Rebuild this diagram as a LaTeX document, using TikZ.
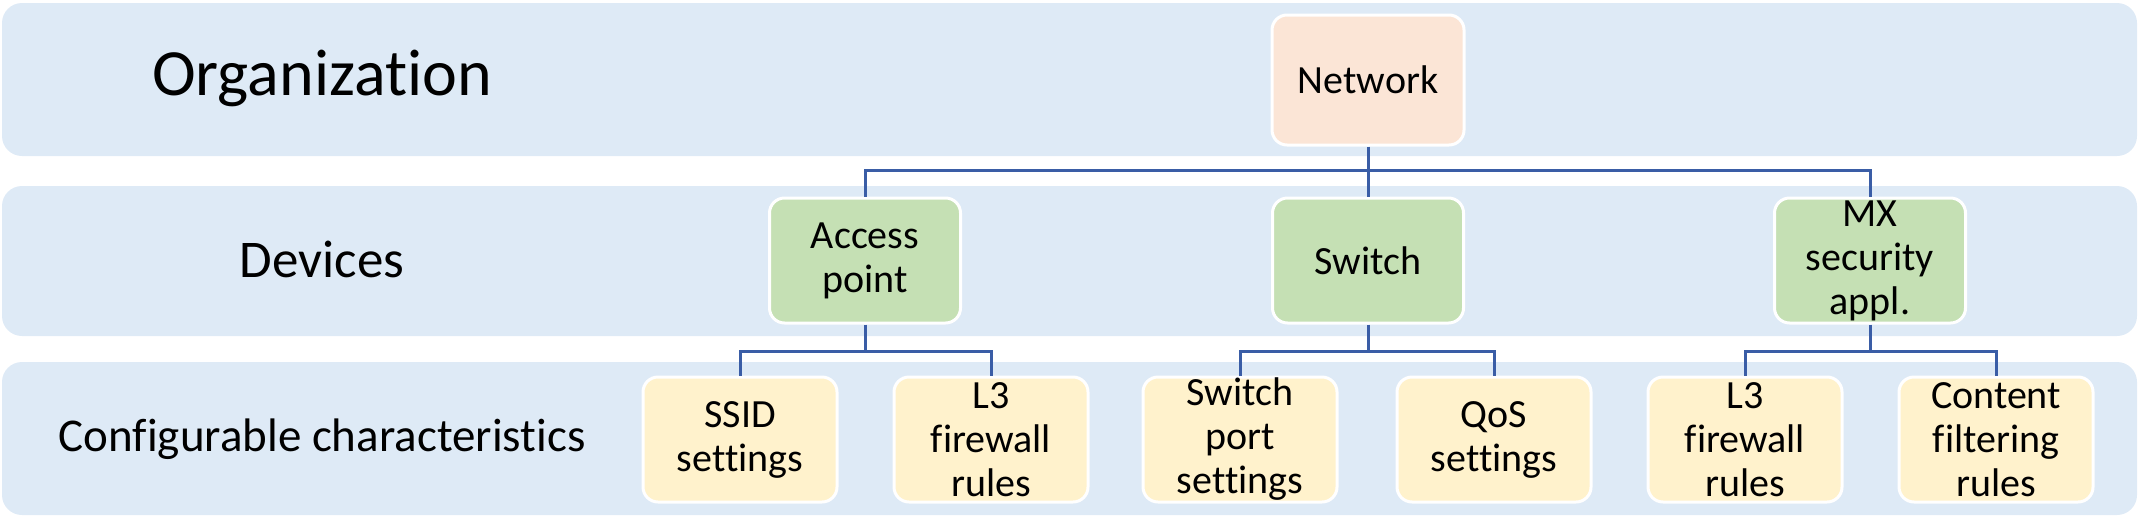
\documentclass[tikz,border=0pt]{standalone}
\usepackage{fontspec}
\setmainfont{Carlito}[Ligatures=NoCommon]
\definecolor{bandblue}{HTML}{DEEAF6}
\definecolor{peach}{HTML}{FBE5D6}
\definecolor{leaf}{HTML}{C5E0B4}
\definecolor{cream}{HTML}{FFF2CC}
\definecolor{wire}{HTML}{3A5DA6}
\begin{document}
\begin{tikzpicture}[x=1pt,y=-1pt,
  band/.style={fill=bandblue,draw=none,rounded corners=20pt},
  lbl/.style={inner sep=0pt},
  box/.style={draw=white,line width=3pt,rounded corners=15pt,inner sep=0pt,
    align=center,font=\fontsize{40}{44}\selectfont},
  orgbox/.style={box,fill=peach,minimum width=192pt,minimum height=130pt},
  devbox/.style={box,fill=leaf,minimum width=191pt,minimum height=125pt},
  cfgbox/.style={box,fill=cream,minimum width=194pt,minimum height=125pt},
  link/.style={draw=wire,line width=3pt}]
\useasboundingbox (0,0) rectangle (2140,517);
\path[band] (2,3) rectangle (2137,156);
\path[band] (2,186) rectangle (2137,336);
\path[band] (2,362) rectangle (2137,515);
\node[lbl,font=\fontsize{66}{72}\selectfont] (lorg) at (322,78) {Organization};
\node[lbl,font=\fontsize{53}{58}\selectfont] (ldev) at (322,259) {Devices};
\node[lbl,font=\fontsize{47}{52}\selectfont] (lcfg) at (322,439) {Configurable characteristics};
\coordinate (j1) at (1368,170);
\coordinate (jAp) at (865,351);
\coordinate (jS) at (1368,351);
\coordinate (jMX) at (1870,351);
\node[orgbox] (net) at (1368,80) {Network};
\node[devbox] (ap) at (865,260.5) {Access\\point};
\node[devbox] (sw) at (1368,260.5) {Switch};
\node[devbox] (mx) at (1870,260.5) {MX\\security\\appl.};
\node[cfgbox] (ssid) at (740,439.5) {SSID\\settings};
\node[cfgbox] (l3a) at (991,439.5) {L3\\firewall\\rules};
\node[cfgbox] (swp) at (1240,439.5) {Switch\\port\\settings};
\node[cfgbox] (qos) at (1494,439.5) {QoS\\settings};
\node[cfgbox] (l3b) at (1745,439.5) {L3\\firewall\\rules};
\node[cfgbox] (cont) at (1996,439.5) {Content\\filtering\\rules};
\path[link] (net.south) -- (j1);
\path[link] (ap.north) |- (j1) -| (mx.north);
\path[link] (j1) -- (sw.north);
\path[link] (ap.south) -- (jAp);
\path[link] (ssid.north) |- (jAp) -| (l3a.north);
\path[link] (sw.south) -- (jS);
\path[link] (swp.north) |- (jS) -| (qos.north);
\path[link] (mx.south) -- (jMX);
\path[link] (l3b.north) |- (jMX) -| (cont.north);
\end{tikzpicture}
\end{document}
